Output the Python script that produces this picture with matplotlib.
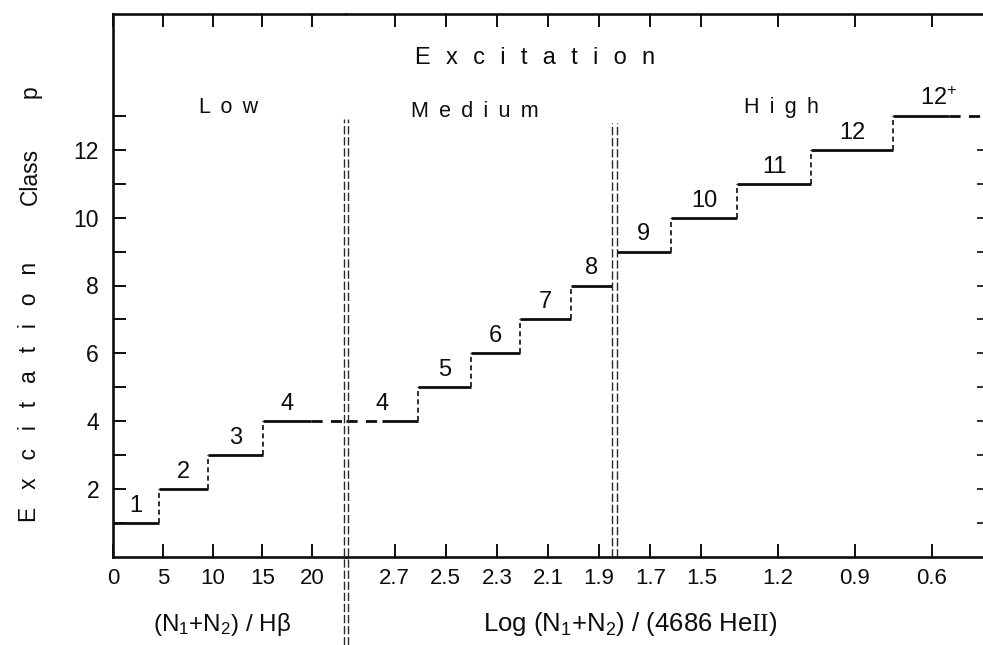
import matplotlib
matplotlib.use("Agg")
import matplotlib.pyplot as plt
import matplotlib.transforms as mtrans

plt.rcParams['font.family'] = ['Liberation Sans', 'DejaVu Sans']
plt.rcParams['mathtext.fontset'] = 'custom'
plt.rcParams['mathtext.rm'] = 'Liberation Sans'
plt.rcParams['mathtext.it'] = 'Liberation Sans:italic'
plt.rcParams['mathtext.bf'] = 'Liberation Sans:bold'
plt.rcParams['mathtext.sf'] = 'Liberation Serif'

# ---------------- data ----------------
low_ticks = [0, 5, 10, 15, 20]
low_class = [1, 2, 3, 4]
low_labels = ['1', '2', '3', '4']
low_from = [0, 4.6, 9.5, 15.1]
low_to = [4.6, 9.5, 15.1, 19.9]
low_limit = [0, 23.4]

log_ticks = [2.7, 2.5, 2.3, 2.1, 1.9, 1.7, 1.5, 1.2, 0.9, 0.6]
log_tick_labels = ['2.7', '2.5', '2.3', '2.1', '1.9', '1.7', '1.5', '1.2', '0.9', '0.6']
log_class = [4, 5, 6, 7, 8, 9, 10, 11, 12, 13]
log_labels = ['4', '5', '6', '7', '8', '9', '10', '11', '12', '12$^{+}$']
log_from = [2.75, 2.61, 2.40, 2.21, 2.01, 1.83, 1.62, 1.36, 1.07, 0.75]
log_to = [2.61, 2.40, 2.21, 2.01, 1.85, 1.62, 1.36, 1.07, 0.75, 0.53]
log_limit = [2.89, 0.395]
log_divider = 1.84
divider_top = [12.9, 12.8]

y_major = [2, 4, 6, 8, 10, 12]
y_minor = [1, 3, 5, 7, 9, 11, 13]
y_right = [1, 2, 3, 4, 5, 6, 7, 8, 9, 10, 11, 12]
y_limit = [0, 16]

# ---------------- figure ----------------
W, H = 983, 645
fig = plt.figure(figsize=(W / 100, H / 100), dpi=100)
fig.patch.set_facecolor('white')


def box(x0, y0, x1, y1):
    return [x0 / W, 1 - y1 / H, (x1 - x0) / W, (y1 - y0) / H]


ax1 = fig.add_axes(box(113, 14, 346, 557))
ax2 = fig.add_axes(box(346, 14, 984, 557))

INK = '#0d0d0d'
SPINE_W = 1.9
for ax in (ax1, ax2):
    ax.set_ylim(y_limit)
    for s in ax.spines.values():
        s.set_linewidth(SPINE_W)
        s.set_color(INK)
    ax.spines['right'].set_visible(False)
ax2.spines['left'].set_visible(False)

ax1.set_xlim(low_limit)
ax2.set_xlim(log_limit)

# ticks
ax1.set_xticks(low_ticks)
ax1.set_xticklabels([str(t) for t in low_ticks])
ax1.set_yticks(y_major)
ax1.set_yticks(y_minor, minor=True)
ax1.tick_params(axis='x', which='both', direction='in', length=9.5, width=1.4,
                top=True, bottom=True, labelsize=16, pad=8, colors=INK)
ax1.tick_params(axis='y', which='both', direction='in', length=9.5, width=1.4,
                left=True, right=False, labelsize=16.5, pad=10, colors=INK)

ax2.set_xticks(log_ticks)
ax2.set_xticklabels(log_tick_labels)
ax2.set_yticks(y_right)
ax2.tick_params(axis='x', which='both', direction='in', length=9.5, width=1.4,
                top=True, bottom=True, labelsize=16, pad=8, colors=INK)
ax2.tick_params(axis='y', which='both', direction='in', length=5, width=1.2,
                left=False, labelleft=False, right=True, labelright=False, colors=INK)

STEP_W = 2.0
RISER = (0, (3, 2))
EXT = (0, (4, 3))
LAB_FS = 17


def draw_steps(ax, cls, x0, x1, labels):
    ax.hlines(cls, x0, x1, colors=INK, linewidth=STEP_W)
    for i in range(1, len(cls)):
        if x1[i - 1] == x0[i]:
            ax.vlines(x0[i], cls[i - 1], cls[i], colors=INK, linewidth=1.2,
                      linestyles=[RISER])
    for c, a, b, lab in zip(cls, x0, x1, labels):
        ax.annotate(lab, xy=((a + b) / 2, c), xytext=(0, 8),
                    textcoords='offset points', ha='center', va='baseline',
                    fontsize=LAB_FS, color=INK)


# low region
draw_steps(ax1, low_class, low_from, low_to, low_labels)
ax1.plot([low_to[-1], low_limit[1]], [low_class[-1]] * 2, color=INK,
         linewidth=STEP_W, linestyle=EXT, clip_on=False)

# log region
ax2.hlines(log_class, log_from, log_to, colors=INK, linewidth=STEP_W)
for i in range(1, len(log_class)):
    if log_to[i - 1] == log_from[i]:
        ax2.vlines(log_from[i], log_class[i - 1], log_class[i], colors=INK,
                   linewidth=1.2, linestyles=[RISER])
lab_from = [log_limit[0]] + log_from[1:]
lab_to = log_to[:-1] + [log_limit[1]]
for c, a, b, lab in zip(log_class, lab_from, lab_to, log_labels):
    ax2.annotate(lab, xy=((a + b) / 2, c), xytext=(0, 8),
                 textcoords='offset points', ha='center', va='baseline',
                 fontsize=LAB_FS, color=INK)
ax2.plot([log_limit[0], log_from[0]], [log_class[0]] * 2, color=INK,
         linewidth=STEP_W, linestyle=EXT, clip_on=False)
ax2.plot([log_to[-1], log_limit[1]], [log_class[-1]] * 2, color=INK,
         linewidth=STEP_W, linestyle=EXT, clip_on=False)


# dividers (double dashed lines)
def divider(ax, x, ytop, ybot):
    for dx in (-1.5, 1.5):
        tr = ax.transData + mtrans.ScaledTranslation(dx / 72, 0, fig.dpi_scale_trans)
        ax.plot([x, x], [ybot, ytop], transform=tr, color='#2a2a2a',
                linewidth=1.0, linestyle=(0, (6, 2)), clip_on=False)


divider(ax2, log_limit[0], divider_top[0], -2.6)
divider(ax2, log_divider, divider_top[1], 0)

# texts
SP1 = ' \u2009'
SP2 = '  \u200a'


def spaced(word, sep):
    return sep.join(word)


def ftext(x, y, s, **kw):
    fig.text(x / W, 1 - y / H, s, color=INK, **kw)


ftext(535, 64, spaced('Excitation', SP2), ha='center', va='baseline', fontsize=17)
ftext(229, 113, spaced('Low', SP1), ha='center', va='baseline', fontsize=15.5)
ftext(475, 117, spaced('Medium', SP1), ha='center', va='baseline', fontsize=15.5)
ftext(781, 113, spaced('High', SP1), ha='center', va='baseline', fontsize=15.5)

ftext(30, 392, spaced('Excitation', ' \u2002'), ha='center', va='center',
      rotation=90, fontsize=16.5)
ftext(30, 176, 'Class', ha='center', va='center', rotation=90, fontsize=16.5)
ftext(30, 92, 'p', ha='center', va='center', rotation=90, fontsize=16.5)

ftext(222, 624, '(N$_1$+N$_2$) / H\u03b2', ha='center', va='center', fontsize=17.4)
ftext(630, 624, 'Log (N$_1$+N$_2$) / (4686 He$\\mathsf{II}$)', ha='center',
      va='center', fontsize=18.5)

fig.savefig('out.png', dpi=100, facecolor='white')
